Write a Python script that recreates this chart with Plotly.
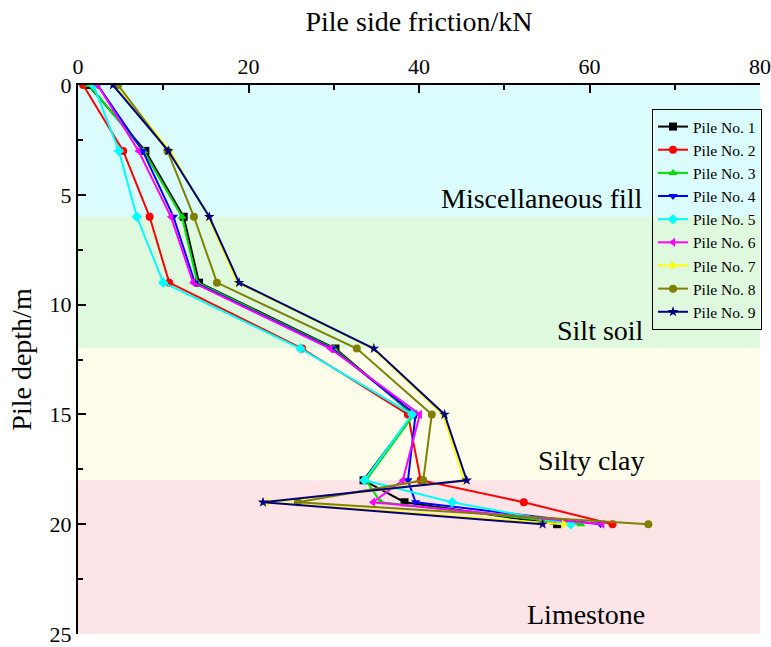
import plotly.graph_objects as go

depths = [0, 3, 6, 9, 12, 15, 18, 19, 20]
pile_names = ["Pile No. 1", "Pile No. 2", "Pile No. 3", "Pile No. 4", "Pile No. 5",
              "Pile No. 6", "Pile No. 7", "Pile No. 8", "Pile No. 9"]
pile1 = [1.2, 7.9, 12.4, 14.2, 30.2, 39.3, 33.5, 38.3, 56.2]
pile2 = [0.6, 5.3, 8.4, 10.7, 26.3, 38.7, 40.2, 52.3, 62.7]
pile3 = [1.3, 7.7, 12.2, 14.0, 30.0, 39.4, 33.8, 35.5, 59.0]
pile4 = [2.3, 7.6, 11.2, 13.7, 29.8, 39.6, 38.7, 39.6, 61.3]
pile5 = [1.8, 4.8, 6.9, 10.0, 26.1, 39.2, 33.6, 43.9, 57.8]
pile6 = [2.3, 7.1, 10.9, 13.5, 29.6, 40.1, 38.1, 34.6, 61.5]
pile7 = [4.5, 10.8, 15.3, 18.7, 34.6, 42.8, 45.3, 22.4, 57.0]
pile8 = [4.7, 10.5, 13.6, 16.3, 32.7, 41.5, 40.5, 25.8, 66.9]
pile9 = [4.1, 10.6, 15.4, 18.9, 34.7, 43.0, 45.6, 21.7, 54.5]
series = [pile1, pile2, pile3, pile4, pile5, pile6, pile7, pile8, pile9]

layer_names = ["Miscellaneous fill", "Silt soil", "Silty clay", "Limestone"]
layer_tops = [0, 6, 12, 18]
layer_bottoms = [6, 12, 18, 25]
layer_label_depth = [5.15, 11.2, 17.1, 24.1]
layer_label_x = [66.5, 66.6, 66.7, 66.7]
layer_colors = ["#dafcfc", "#dff9df", "#fefeea", "#fde4e7"]

colors = ["#000000", "#ff0000", "#00dd00", "#0000ff", "#00ffff",
          "#ff00ff", "#ffff00", "#808000", "#000080"]
symbols = ["square", "circle", "triangle-up", "triangle-down", "diamond",
           "triangle-left", "triangle-right", "circle", "star"]

fig = go.Figure()
for name, vals, c, s in zip(pile_names, series, colors, symbols):
    fig.add_trace(go.Scatter(
        x=vals, y=depths, mode="lines+markers", name=name,
        line=dict(color=c, width=2),
        marker=dict(symbol=s, size=8, color=c),
    ))

for top, bot, col in zip(layer_tops, layer_bottoms, layer_colors):
    fig.add_shape(type="rect", xref="x", yref="y", x0=0, x1=80, y0=top, y1=bot,
                  fillcolor=col, line=dict(width=0), layer="below")

font_serif = "Liberation Serif, Times New Roman, serif"
for name, d, xx in zip(layer_names, layer_label_depth, layer_label_x):
    fig.add_annotation(x=xx, y=d, xref="x", yref="y", text=name, showarrow=False,
                       font=dict(family=font_serif, size=28, color="black"),
                       xanchor="right", yanchor="middle")

fig.update_layout(
    width=771, height=647,
    margin=dict(l=78, r=11, t=85, b=13, autoexpand=False),
    paper_bgcolor="white", plot_bgcolor="white",
    font=dict(family=font_serif, color="black"),
    showlegend=True,
    legend=dict(x=652 / 771, y=1 - 109 / 647, xref="container", yref="container",
                xanchor="left", yanchor="top",
                bordercolor="black", borderwidth=1, bgcolor="rgba(255,255,255,0)",
                font=dict(family=font_serif, size=15.5),
                tracegroupgap=0, itemwidth=30),
    xaxis=dict(range=[0, 80], side="top", tickvals=[0, 20, 40, 60, 80],
               ticks="inside", ticklen=8, tickwidth=1.5, tickcolor="black",
               minor=dict(tickvals=[10, 30, 50, 70], ticks="inside", ticklen=5,
                          tickcolor="black", tickwidth=1.5),
               showline=True, linecolor="black", linewidth=2, mirror=False,
               showgrid=False, zeroline=False, automargin=False,
               tickfont=dict(size=22, family=font_serif),
               title=dict(text="Pile side friction/kN", font=dict(size=28, family=font_serif),
                          standoff=14)),
    yaxis=dict(range=[25, 0], tickvals=[0, 5, 10, 15, 20, 25],
               ticks="inside", ticklen=8, tickwidth=1.5, tickcolor="black",
               minor=dict(tickvals=[2.5, 7.5, 12.5, 17.5, 22.5], ticks="inside", ticklen=5,
                          tickcolor="black", tickwidth=1.5),
               showline=True, linecolor="black", linewidth=2, mirror=False,
               showgrid=False, zeroline=False, automargin=False,
               tickfont=dict(size=22, family=font_serif),
               title=dict(text="Pile depth/m", font=dict(size=28, family=font_serif),
                          standoff=10)),
)

fig.write_html("out.html")
